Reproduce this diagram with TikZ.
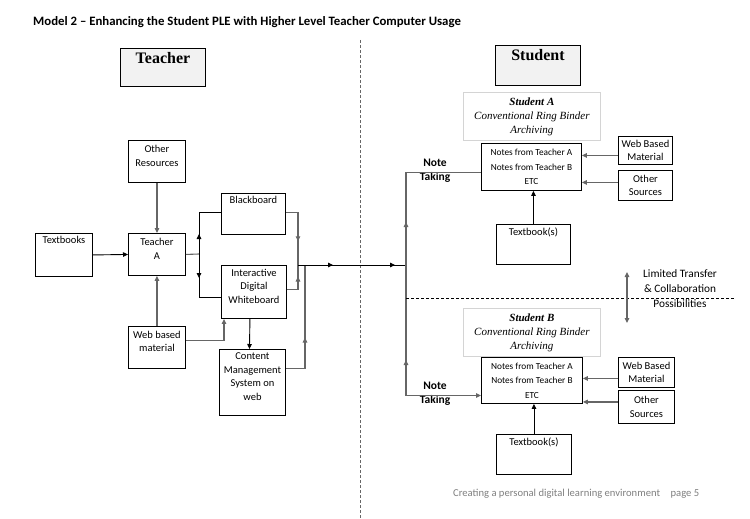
\documentclass[tikz,border=0pt]{standalone}
\usepackage{fontspec}
\setmainfont{Carlito}
\newfontfamily\serifhd{Liberation Serif}
\usetikzlibrary{arrows.meta,decorations.markings}
\definecolor{lgr}{HTML}{666666}
\definecolor{hdrfill}{HTML}{F2F2F2}
\definecolor{boxgray}{HTML}{D4D4D4}
\definecolor{foot}{HTML}{7F7F7F}
\begin{document}
\begin{tikzpicture}[x=1pt,y=-1pt,
  >={Triangle[width=4.5pt,length=5pt]},
  box/.style={draw=black, line width=0.9pt, fill=white, inner sep=1pt, align=center,
    font=\fontsize{10.5}{13.5}\selectfont, anchor=north west},
  lab/.style={anchor=north, yshift=-2.5pt, inner sep=1pt, align=center, font=\fontsize{10.5}{13.5}\selectfont},
  notes/.style={box, font=\fontsize{9.3}{14.5}\selectfont},
  hdrbox/.style={draw=black, line width=0.9pt, fill=hdrfill, anchor=north west, inner sep=0pt},
  hdrlab/.style={anchor=north, yshift=-3pt, inner sep=1pt, font=\serifhd\bfseries\fontsize{16}{18}\selectfont},
  stbox/.style={draw=boxgray, line width=0.8pt, fill=white, anchor=north west, inner sep=1pt, align=center,
    font=\serifhd\itshape\fontsize{11}{14}\selectfont},
  blk/.style={draw=black, line width=0.9pt},
  gry/.style={draw=lgr, line width=1.1pt},
  midarr/.style={postaction={decorate,decoration={markings,mark=at position #1 with {\arrow{>}}}}},
  midrev/.style={postaction={decorate,decoration={markings,mark=at position #1 with {\arrowreversed{>}}}}},
  ntlab/.style={align=center, inner sep=0pt, font=\bfseries\fontsize{11.5}{14}\selectfont},
]
\useasboundingbox (0,0) rectangle (750,519);

% title
\node[anchor=west, inner sep=0pt, font=\bfseries\fontsize{12.8}{14}\selectfont] (title) at (33,22)
  {Model 2 -- Enhancing the Student PLE with Higher Level Teacher Computer Usage};

% divider
\coordinate (dv1) at (360,40);
\coordinate (dv2) at (360,519);
\draw[lgr, line width=1pt, dash pattern=on 3pt off 2pt] (dv1) -- (dv2);

% headers
\node[hdrbox, minimum width=85pt, minimum height=38pt,
  label={[hdrlab]north:Teacher}] (th) at (120,48) {};
\node[hdrbox, minimum width=85pt, minimum height=40pt,
  label={[hdrlab]north:Student}] (sh) at (495,45) {};

% teacher side boxes
\node[box, minimum width=57pt, minimum height=43pt, label={[lab]north:Textbooks}] (tb) at (35,233) {};
\node[box, minimum width=57pt, minimum height=42pt] (ta) at (128,233) {Teacher\\A\\[-2pt]};
\node[box, minimum width=57pt, minimum height=42pt] (or) at (128,140) {Other\\Resources\\[-2pt]};
\node[box, minimum width=57pt, minimum height=42pt] (wb) at (128,326) {Web based\\material\\[-1pt]};
\node[box, minimum width=64pt, minimum height=41pt, label={[lab]north:Blackboard}] (bb) at (221,193) {};
\node[box, minimum width=65pt, minimum height=53pt] (idw) at (221,265) {Interactive\\Digital\\Whiteboard\\[-2pt]};
\node[box, minimum width=66pt, minimum height=66pt] (cms) at (219,349) {Content\\Management\\System on\\web\\[-2pt]};

% student A
\node[stbox, minimum width=137pt, minimum height=48pt] (sA) at (463,92)
  {{\bfseries Student A}\\Conventional Ring Binder\\Archiving};
\node[notes, minimum width=100pt, minimum height=47pt] (nA) at (481,143)
  {Notes from Teacher A\\Notes from Teacher B\\ETC};
\node[box, minimum width=54pt, minimum height=28pt] (wbA) at (618,136) {Web Based\\Material};
\node[box, minimum width=54pt, minimum height=30pt] (osA) at (618,170) {Other\\Sources};
\node[box, minimum width=74pt, minimum height=40pt, label={[lab]north:Textbook(s)}] (tbA) at (496,224) {};

% student B
\node[stbox, minimum width=137pt, minimum height=48pt] (sB) at (463,308)
  {{\bfseries Student B}\\Conventional Ring Binder\\Archiving};
\node[notes, minimum width=101pt, minimum height=46pt] (nB) at (481,357)
  {Notes from Teacher A\\Notes from Teacher B\\ETC};
\node[box, minimum width=56pt, minimum height=30pt] (wbB) at (618,357) {Web Based\\Material};
\node[box, minimum width=56pt, minimum height=33pt] (osB) at (618,390) {Other\\Sources};
\node[box, minimum width=75pt, minimum height=40pt, label={[lab]north:Textbook(s)}] (tbB) at (496,434) {};

% note taking labels
\node[ntlab] (ntA) at (435,171) {Note\\Taking};
\node[ntlab] (ntB) at (435,394) {Note\\Taking};

% limited transfer
\node[align=center, inner sep=0pt, font=\fontsize{11.3}{15}\selectfont] (lt) at (680,289)
  {Limited Transfer\\\& Collaboration\\Possibilities};

% footer
\node[anchor=west, inner sep=0pt, text=foot, font=\fontsize{10.6}{12}\selectfont] (foot) at (453,494)
  {Creating a personal digital learning environment\quad page 5};

% ---- connectors, teacher side
\draw[blk, ->] (tb.east) -- (ta.west);
\draw[gry, ->] (or.south) -- (ta.north);
\draw[gry, ->] (wb.north) -- (ta.south);
\draw[gry, ->] ([yshift=7pt]wb.east) -| ([xshift=3pt]idw.south west);

\coordinate (split) at (199,254);
\draw[gry] (ta.east) -- (split);
\draw[blk, midarr=20pt] (split) |- ([yshift=1.5pt]bb.west);
\draw[blk, midarr=24pt] (split) |- ([yshift=-5.5pt]idw.west);

\coordinate (merge) at (298,265);
\coordinate (merge2) at (305,265);
\draw[gry, midarr=41pt] ([yshift=1.5pt]bb.east) -| (merge);
\draw[gry, midarr=24pt] ([yshift=2.5pt]idw.east) -| (merge);
\draw[blk, ->] ([xshift=-4pt]idw.south) -- ([xshift=-3pt]cms.north);
\draw[gry, midarr=50pt] ([yshift=14pt]cms.east) -| (merge2);

\coordinate (nt) at (406,265);
\draw[blk, midarr=35pt, midarr=97pt] (merge) -- (nt);

% ---- student side
\draw[gry, midarr=43pt] (nt) |- ([yshift=-5.5pt]nA.west);
\draw[gry, midrev=95pt, ->] (nt) |- ([yshift=-15pt]nB.west);

\draw[gry, ->] ([yshift=-5pt]wbA.west) -- ([yshift=-5pt]wbA.west -| nA.east);
\draw[gry, ->] ([yshift=3pt]osA.west) -- ([yshift=3pt]osA.west -| nA.east);
\draw[blk, ->] (tbA.north) -- (tbA.north |- nA.south);

\draw[gry, ->] ([yshift=-6pt]wbB.west) -- ([yshift=-6pt]wbB.west -| nB.east);
\draw[gry, ->] ([yshift=5pt]osB.west) -- ([yshift=5pt]osB.west -| nB.east);
\draw[blk, ->] (tbB.north) -- (tbB.north |- nB.south);

% limited transfer
\coordinate (dh1) at (406,298);
\coordinate (dh2) at (735,298);
\draw[black, line width=0.8pt, dash pattern=on 3pt off 2pt] (dh1) -- (dh2);
\coordinate (ltT) at (627,272);
\coordinate (ltB) at (627,323);
\draw[gry, <->] (ltT) -- (ltB);
\end{tikzpicture}
\end{document}
